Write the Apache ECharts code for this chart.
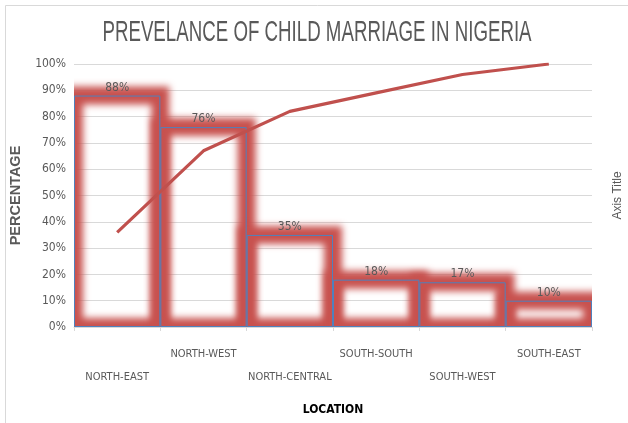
<!DOCTYPE html>
<html>
<head>
<meta charset="utf-8">
<script src="https://cdn.jsdelivr.net/npm/echarts@6/dist/echarts.min.js"></script>
<style>
html,body{margin:0;padding:0;background:#fff;}
#chart{width:628px;height:423px;}
</style>
</head>
<body>
<div id="chart"></div>
<script>
const categories = ['NORTH-EAST','NORTH-WEST','NORTH-CENTRAL','SOUTH-SOUTH','SOUTH-WEST','SOUTH-EAST'];
const prevalence = [88, 76, 35, 18, 17, 10];
const cumulative = [36, 67, 82, 89, 96, 100];
const yTicks = [0, 100, 10];

const RED = '#C0504D';
const GLOW = '#C8524F';
const BLUE = '#4F81BD';
const GREY = '#595959';
const NARROW = '"DejaVu Sans Condensed", "Liberation Sans Narrow", sans-serif';
const OFF = 3000;

const chart = echarts.init(document.getElementById('chart'), null, {renderer: 'canvas'});

const option = {
  backgroundColor: '#fff',
  animation: false,
  graphic: [
    {type: 'rect', shape: {x: 5.5, y: 5.5, width: 700, height: 500}, style: {fill: 'none', stroke: '#d9d9d9', lineWidth: 1}, z: 0},
    {type: 'text', x: 317, y: 33, scaleX: 0.85, scaleY: 1.35, style: {text: 'PREVELANCE OF CHILD MARRIAGE IN NIGERIA', font: '22px "Liberation Sans", sans-serif', fill: GREY, textAlign: 'center', textVerticalAlign: 'middle'}, z: 10}
  ],
  grid: {left: 74, right: 36, top: 64, bottom: 96, containLabel: false, outerBoundsMode: 'none'},
  xAxis: {
    type: 'category',
    data: categories,
    boundaryGap: true,
    name: 'LOCATION',
    nameLocation: 'middle',
    nameGap: 77,
    nameTextStyle: {color: '#000', fontWeight: 'bold', fontSize: 12, fontFamily: NARROW},
    axisLine: {show: true, lineStyle: {color: '#d9d9d9'}},
    axisTick: {show: true, length: 4, lineStyle: {color: '#d9d9d9'}},
    axisLabel: {
      interval: 0, margin: 16, lineHeight: 23, color: GREY, fontSize: 11, fontFamily: NARROW,
      formatter: (v, i) => (i % 2 === 0 ? '\n' + v : v)
    },
    splitLine: {show: false}
  },
  yAxis: [
    {
      type: 'value', min: yTicks[0], max: yTicks[1], interval: yTicks[2],
      name: 'PERCENTAGE', nameLocation: 'middle', nameGap: 51, nameRotate: 90,
      nameTextStyle: {color: GREY, fontWeight: 'bold', fontSize: 14.5, fontFamily: '"Liberation Sans", Arial, sans-serif'},
      axisLine: {show: false}, axisTick: {show: false},
      axisLabel: {formatter: '{value}%', color: GREY, fontSize: 12, fontFamily: NARROW, margin: 8},
      splitLine: {lineStyle: {color: '#d9d9d9', width: 1}}
    },
    {
      type: 'value', min: yTicks[0], max: yTicks[1], interval: yTicks[2], position: 'right',
      name: 'Axis Title', nameLocation: 'middle', nameGap: 20, nameRotate: 90,
      nameTextStyle: {color: GREY, fontSize: 12, fontFamily: '"Liberation Sans", Arial, sans-serif'},
      axisLine: {show: false}, axisTick: {show: false}, axisLabel: {show: false}, splitLine: {show: false}
    }
  ],
  series: [
    {
      type: 'custom',
      name: 'glow',
      clip: true,
      z: 1,
      data: prevalence.map((v, i) => [i, v]),
      encode: {x: 0, y: 1},
      renderItem: function (params, api) {
        const top = api.coord([api.value(0), api.value(1)]);
        const bottom = api.coord([api.value(0), 0]);
        const w = api.size([1, 0])[0];
        return {
          type: 'rect',
          shape: {x: top[0] - w / 2 - OFF, y: top[1], width: w, height: bottom[1] - top[1]},
          style: {fill: 'none', stroke: '#000', lineWidth: 18, shadowBlur: 7, shadowColor: GLOW, shadowOffsetX: OFF, shadowOffsetY: 0}
        };
      }
    },
    {
      type: 'bar',
      name: 'Prevalence',
      data: prevalence,
      barCategoryGap: 0,
      z: 3,
      itemStyle: {color: 'rgba(0,0,0,0)', borderColor: BLUE, borderWidth: 1},
      label: {show: true, position: 'top', distance: 2, formatter: '{c}%', color: GREY, fontSize: 12, fontFamily: NARROW}
    },
    {
      type: 'line',
      name: 'Cumulative',
      yAxisIndex: 1,
      data: cumulative,
      z: 4,
      symbol: 'none',
      lineStyle: {color: RED, width: 3.2},
      itemStyle: {color: RED}
    }
  ]
};
chart.setOption(option);
</script>
</body>
</html>
